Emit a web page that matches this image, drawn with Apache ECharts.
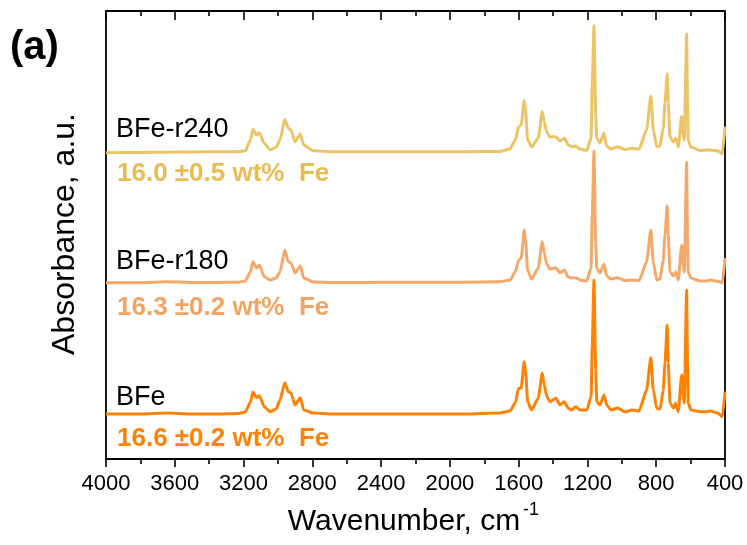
<!DOCTYPE html>
<html>
<head>
<meta charset="utf-8">
<script src="https://cdn.jsdelivr.net/npm/echarts@6/dist/echarts.min.js"></script>
<style>html,body{margin:0;padding:0;background:#fff}#c{width:747px;height:545px}</style>
</head>
<body>
<div id="c"></div>
<script>
// wavenumber grid (cm-1)
const wavenumbers = [4000,3800,3650,3500,3350,3230,3190,3160,3145,3125,3108,3080,3045,3010,2988,2960,2940,2925,2900,2870,2850,2795,2680,2500,2310,2120,1910,1710,1650,1620,1600,1585,1568,1560,1548,1525,1486,1463,1451,1437,1418,1383,1360,1335,1311,1292,1268,1243,1204,1179,1172,1162,1152,1146,1127,1104,1088,1063,1026,980,943,900,856,831,817,797,778,759,749,736,730,720,700,687,672,652,643,637,623,618,614,598,546,507,487,439,416,400];

// absorbance above each trace's own baseline (a.u.)
const absBFe = [0,0,1,0,0,0.5,2,12,22,16.3,18.3,7.3,2.3,5,14,31.3,22.3,21,9,16.3,4,1,0,0,0,0,0,1,3,11,25.7,26,52.3,44,12.3,4,15.7,40.7,29,18,12.3,15.7,9,12.3,5.7,4,7.3,4,4,17.3,67.3,134,44,12.3,9,19,9,4,6,2,4,3,24,56.3,24,5.7,5,24,51,89,51,11,6,10.7,2.3,39,19,11,124,51,11,4,2.3,2.3,3,0.7,-2.7,22.3];
const absR180 = [0,0,1,0.3,0.3,0.5,1.7,10.7,21,14.7,17.7,6,2.7,4.7,10.7,32.7,21,19.7,9.7,16.7,4.7,0.7,0.3,0.3,0.5,0.5,0.5,1,2.7,10.7,22.7,24.7,52.7,42.7,12.7,3.7,14.7,41,29.7,18.7,13.7,15,9.7,12.7,5.7,4.7,5,2.7,1.7,14.7,67.7,131.7,39.7,14.7,9.7,18.7,6.7,3.7,5,2,2.7,2,20.7,52.7,20.7,2.7,3.7,22.7,47.7,77,47.7,11,6.7,10.7,2.7,37.7,17.7,10.7,120.4,47.7,10.7,4.7,1.7,1.7,2.7,1.2,-0.3,24.7];
const absR240 = [0,0.3,0.5,0.8,1,1,2,12.7,23.4,17.7,20,9.4,2.7,5.7,12.7,33.4,24.4,22.7,11,18.7,7.7,2,1,1,1,1,1,1.2,3.7,12.7,26,27.7,52,42.7,12.7,5.7,14.7,41,30.7,20.7,15.7,16,11.7,14.4,7.7,6,6.7,3.7,2.2,14.7,67.7,127,37.7,14.7,9.7,19.4,6.7,3.7,6,3.2,4.4,3.7,22.7,56.7,22.7,6,6.7,24.7,49.7,78.7,49.7,16,10.7,14.7,5.7,36.7,17.7,12.7,118.7,52.7,12.7,5.7,2.2,2.7,2.7,1.7,-1.3,26];

// vertical stacking offsets of the traces (a.u.)
const seriesNames = ['BFe-r240','BFe-r180','BFe'];
const offsets = [306.3, 176.3, 45];
const feContent = ['16.0 \u00b10.5 wt%  Fe','16.3 \u00b10.2 wt%  Fe','16.6 \u00b10.2 wt%  Fe'];
const xTicks = [4000,3600,3200,2800,2400,2000,1600,1200,800,400];

const lineColors = ['#ECC466','#F4A96B','#FF8204'];
const textColors = ['#E9BC52','#F2A463','#FF8204'];
const absAll = [absR240, absR180, absBFe];

const FONT = '"Liberation Sans", Arial, sans-serif';
const chart = echarts.init(document.getElementById('c'), null, {renderer:'canvas'});

const series = absAll.map((a, k) => ({
  name: seriesNames[k],
  type: 'line',
  showSymbol: false,
  smooth: 0.2,
  smoothMonotone: 'x',
  clip: false,
  lineStyle: {color: lineColors[k], width: 3},
  itemStyle: {color: lineColors[k]},
  data: wavenumbers.map((w, i) => [w, offsets[k] + a[i]])
}));

// label positions (pixels)
const nameY = [129.5, 261.5, 397.5];
const feY = [174, 308, 439];

const graphics = [
  {type:'text', x: 10, y: 47.5,
   style:{text:'(a)', font:'bold 40px ' + FONT, fill:'#000', textAlign:'left', textVerticalAlign:'middle'}},
  {type:'text', x: 65, y: 234, rotation: Math.PI/2,
   style:{text:'Absorbance, a.u.', font:'32px ' + FONT, fill:'#000', textAlign:'center', textVerticalAlign:'middle'}},
  {type:'text', x: 404, y: 522,
   style:{text:'Wavenumber, cm', font:'30px ' + FONT, fill:'#000', textAlign:'center', textVerticalAlign:'middle'}},
  {type:'text', x: 523, y: 510,
   style:{text:'-1', font:'18px ' + FONT, fill:'#000', textAlign:'left', textVerticalAlign:'middle'}}
];
for (let k = 0; k < 3; k++) {
  graphics.push({type:'text', x: 116, y: nameY[k],
    style:{text: seriesNames[k], font:'27px ' + FONT, fill:'#000', textAlign:'left', textVerticalAlign:'middle'}});
  graphics.push({type:'text', x: 117, y: feY[k],
    style:{text: feContent[k], font:'bold 26px ' + FONT, fill: textColors[k], textAlign:'left', textVerticalAlign:'middle'}});
}

const axisLineStyle = {color:'#000', width:1.8};
chart.setOption({
  animation: false,
  backgroundColor: '#fff',
  grid: {left: 106, right: 22, top: 11, bottom: 86, containLabel: false},
  xAxis: [
    {type:'value', inverse:true, min:400, max:4000, interval:400, position:'bottom',
     axisLine:{show:true, onZero:false, lineStyle:axisLineStyle},
     axisTick:{show:true, inside:false, length:8, lineStyle:{color:'#000', width:1.6}},
     minorTick:{show:true, splitNumber:2, length:5, lineStyle:{color:'#000', width:1.6}},
     axisLabel:{show:true, fontSize:22, fontFamily:FONT, color:'#000', margin:14,
                customValues: xTicks, formatter: v => String(v)},
     splitLine:{show:false}, minorSplitLine:{show:false}},
    {type:'value', inverse:true, min:400, max:4000, interval:400, position:'top',
     axisLine:{show:true, onZero:false, lineStyle:axisLineStyle},
     axisTick:{show:true, inside:true, length:9, lineStyle:{color:'#000', width:1.6}},
     minorTick:{show:true, splitNumber:2, length:5, lineStyle:{color:'#000', width:1.6}},
     axisLabel:{show:false}, splitLine:{show:false}}
  ],
  yAxis: [
    {type:'value', min:0, max:448, position:'left',
     axisLine:{show:true, onZero:false, lineStyle:axisLineStyle},
     axisTick:{show:false}, axisLabel:{show:false}, splitLine:{show:false}},
    {type:'value', min:0, max:448, position:'right',
     axisLine:{show:true, onZero:false, lineStyle:axisLineStyle},
     axisTick:{show:false}, axisLabel:{show:false}, splitLine:{show:false}}
  ],
  series: series,
  graphic: graphics
});
</script>
</body>
</html>
